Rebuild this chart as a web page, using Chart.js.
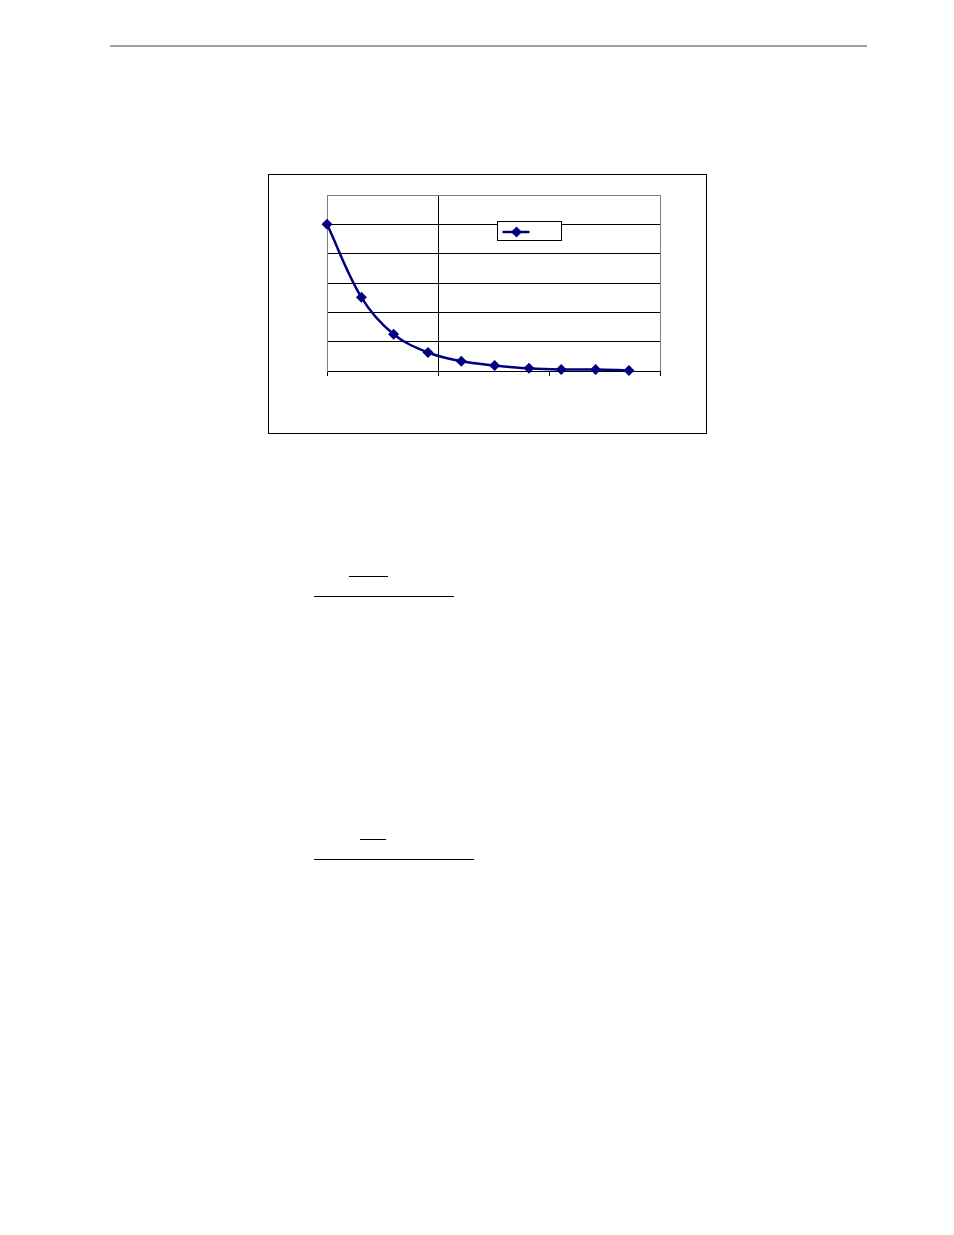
<!DOCTYPE html>
<html>
<head>
<meta charset="utf-8">
<script src="https://cdn.jsdelivr.net/npm/chart.js@4.4.1/dist/chart.umd.min.js"></script>
<style>
    body { margin: 0; background: #fff; }
    .rule { position: absolute; height: 0; }
    #chart-box {
        position: absolute; left: 268px; top: 174px;
        width: 437px; height: 258px;
        border: 1px solid #000; background: #fff;
    }
</style>
</head>
<body>
<div class="rule" style="left:110px; top:45px; width:757px; border-top:2px solid #a0a0a0;"></div>

<div id="chart-box"><canvas id="decay-chart" width="437" height="258"></canvas></div>

<div class="rule" style="left:349px; top:576px; width:39px; border-top:1px solid #000;"></div>
<div class="rule" style="left:314px; top:596px; width:140px; border-top:1px solid #000;"></div>
<div class="rule" style="left:360px; top:839px; width:26px; border-top:1px solid #000;"></div>
<div class="rule" style="left:314px; top:859px; width:160px; border-top:1px solid #000;"></div>

<script>
const xValues = [0, 0.31, 0.6, 0.91, 1.21, 1.51, 1.82, 2.11, 2.42, 2.72];
const yValues = [5.0, 2.51, 1.25, 0.63, 0.33, 0.19, 0.09, 0.05, 0.05, 0.02];
const seriesLabel = '';

const lineColor = '#000080';
const frameGray = '#808080';

// legend box drawn inside the plot, like the original
const legendBox = {
    id: 'legendBox',
    afterDraw(chart) {
        const ctx = chart.ctx;
        const area = chart.chartArea;
        const x = area.left + 170.5, y = area.top + 26.5;
        ctx.save();
        ctx.fillStyle = '#fff';
        ctx.fillRect(x, y, 64, 19);
        ctx.strokeStyle = '#000';
        ctx.lineWidth = 1;
        ctx.strokeRect(x, y, 64, 19);
        ctx.strokeStyle = lineColor;
        ctx.lineWidth = 2.5;
        ctx.beginPath();
        ctx.moveTo(x + 5, y + 10.5);
        ctx.lineTo(x + 32, y + 10.5);
        ctx.stroke();
        ctx.fillStyle = lineColor;
        ctx.beginPath();
        ctx.moveTo(x + 19, y + 5);
        ctx.lineTo(x + 24.5, y + 10.5);
        ctx.lineTo(x + 19, y + 16);
        ctx.lineTo(x + 13.5, y + 10.5);
        ctx.closePath();
        ctx.fill();
        if (seriesLabel) {
            ctx.fillStyle = '#000';
            ctx.font = '11px "Liberation Serif"';
            ctx.textBaseline = 'middle';
            ctx.fillText(seriesLabel, x + 36, y + 10.5);
        }
        ctx.restore();
    }
};

const ctx = document.getElementById('decay-chart').getContext('2d');
window.decayChart = new Chart(ctx, {
    type: 'line',
    data: {
        datasets: [{
            label: seriesLabel,
            data: xValues.map((x, i) => ({ x: x, y: yValues[i] })),
            borderColor: lineColor,
            backgroundColor: lineColor,
            borderWidth: 2.5,
            tension: 0.35,
            pointStyle: 'rectRot',
            pointRadius: 5.5,
            pointBorderWidth: 0,
            clip: false,
            fill: false
        }]
    },
    options: {
        responsive: false,
        animation: false,
        devicePixelRatio: 1,
        layout: { padding: { left: 58, right: 46, top: 20, bottom: 62 } },
        plugins: { legend: { display: false }, tooltip: { enabled: false } },
        scales: {
            x: {
                type: 'linear',
                min: 0,
                max: 3,
                ticks: { display: false, stepSize: 1 },
                afterFit: s => { s.height = 0; },
                border: { display: true, color: '#000', width: 1 },
                grid: {
                    drawOnChartArea: true,
                    tickLength: 5,
                    tickColor: '#000',
                    color: c => {
                        const v = c.tick ? c.tick.value : null;
                        if (v === 1) return '#000';
                        if (v === 3) return frameGray;
                        return 'rgba(0,0,0,0)';
                    }
                }
            },
            y: {
                min: 0,
                max: 6,
                ticks: { display: false, stepSize: 1 },
                afterFit: s => { s.width = 0; },
                border: { display: true, color: frameGray, width: 1 },
                grid: {
                    drawTicks: false,
                    color: c => (c.tick && c.tick.value === 6) ? frameGray : '#000'
                }
            }
        }
    },
    plugins: [legendBox]
});
</script>
</body>
</html>
